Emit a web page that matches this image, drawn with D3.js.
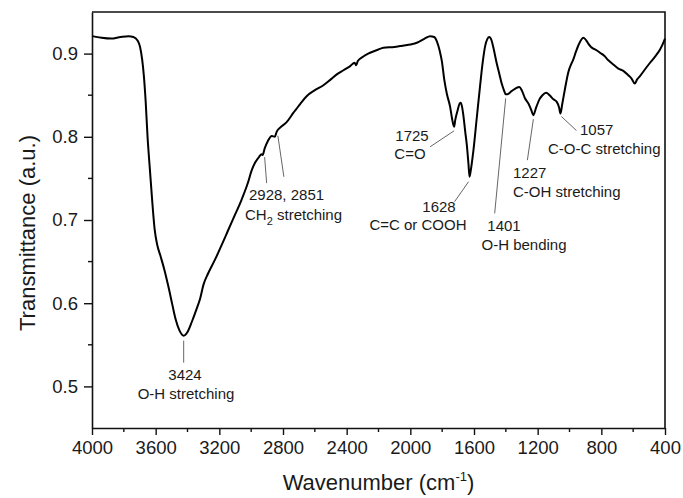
<!DOCTYPE html>
<html>
<head>
<meta charset="utf-8">
<script src="https://cdn.jsdelivr.net/npm/d3@7"></script>
<style>
  html, body { margin: 0; padding: 0; background: #fff; }
  svg { display: block; font-family: "Liberation Sans", Arial, sans-serif; }
</style>
</head>
<body>
<svg id="chart" width="683" height="498"></svg>
<script>
// FTIR spectrum: wavenumber (cm^-1) and transmittance (a.u.)
const wavenumber = [
  4000, 3940, 3880, 3820, 3770, 3740, 3715, 3698, 3685, 3675, 3663, 3651, 3636, 3621, 3606,
  3590, 3570, 3545, 3520, 3495, 3475, 3450, 3424, 3398, 3372, 3345, 3320, 3300, 3270, 3228,
  3185, 3144, 3100, 3061, 3020, 2998, 2975, 2950, 2935, 2928, 2915, 2895, 2870, 2851, 2840,
  2818, 2780, 2734, 2690, 2650, 2600, 2546, 2500, 2462, 2420, 2378, 2350, 2340, 2330, 2300,
  2253, 2200, 2169, 2100, 2064, 2000, 1959, 1910, 1876, 1850, 1834, 1815, 1802, 1787, 1771,
  1750, 1738, 1725, 1718, 1704, 1690, 1683, 1675, 1667, 1655, 1645, 1635, 1628, 1620, 1604,
  1583, 1562, 1545, 1530, 1515, 1504, 1490, 1478, 1457, 1440, 1426, 1410, 1401, 1390, 1375,
  1363, 1340, 1315, 1300, 1279, 1258, 1240, 1227, 1210, 1189, 1170, 1147, 1125, 1101, 1080,
  1065, 1057, 1045, 1028, 1007, 990, 976, 960, 944, 913, 895, 882, 865, 850, 830,
  808, 780, 756, 725, 693, 660, 631, 610, 590, 575, 557, 530, 494, 460, 431,
  415, 400
];
const transmittance = [
  0.921, 0.919, 0.918, 0.920, 0.921, 0.920, 0.916, 0.908, 0.893, 0.875, 0.843, 0.800, 0.760, 0.721, 0.688,
  0.670, 0.657, 0.640, 0.620, 0.598, 0.581, 0.567, 0.561, 0.566, 0.578, 0.592, 0.606, 0.622, 0.636, 0.652,
  0.670, 0.688, 0.707, 0.724, 0.745, 0.759, 0.769, 0.776, 0.779, 0.778, 0.786, 0.795, 0.801, 0.800, 0.806,
  0.811, 0.817, 0.829, 0.840, 0.849, 0.856, 0.862, 0.869, 0.875, 0.880, 0.885, 0.889, 0.886, 0.891, 0.896,
  0.901, 0.905, 0.907, 0.908, 0.909, 0.911, 0.913, 0.918, 0.921, 0.920, 0.915, 0.903, 0.891, 0.869, 0.852,
  0.836, 0.822, 0.812, 0.820, 0.831, 0.840, 0.841, 0.836, 0.826, 0.806, 0.790, 0.768, 0.752, 0.760, 0.783,
  0.822, 0.861, 0.890, 0.909, 0.918, 0.920, 0.916, 0.907, 0.888, 0.875, 0.864, 0.855, 0.851, 0.851, 0.853,
  0.855, 0.858, 0.860, 0.856, 0.846, 0.840, 0.832, 0.826, 0.835, 0.845, 0.850, 0.853, 0.850, 0.845, 0.842,
  0.835, 0.828, 0.840, 0.858, 0.878, 0.887, 0.893, 0.902, 0.910, 0.919, 0.916, 0.912, 0.908, 0.906, 0.904,
  0.901, 0.897, 0.892, 0.887, 0.882, 0.879, 0.874, 0.870, 0.864, 0.869, 0.873, 0.880, 0.889, 0.897, 0.905,
  0.911, 0.918
];

// Axis ticks
const xTicks = [4000, 3600, 3200, 2800, 2400, 2000, 1600, 1200, 800, 400];
const xMinorTicks = [3800, 3400, 3000, 2600, 2200, 1800, 1400, 1000, 600];
const yTicks = [0.5, 0.6, 0.7, 0.8, 0.9];
const yMinorTicks = [0.55, 0.65, 0.75, 0.85];

// Band assignments: peak position and label lines
const bandPeaks = [3424, 2928, 2851, 1725, 1628, 1401, 1227, 1057];
const bandValues = [0.561, 0.778, 0.800, 0.812, 0.752, 0.851, 0.826, 0.828];
const bandLabels = [
  ["3424", "O-H stretching"],
  ["2928, 2851", "CH\u2082 stretching"],
  ["1725", "C=O"],
  ["1628", "C=C or COOH"],
  ["1401", "O-H bending"],
  ["1227", "C-OH stretching"],
  ["1057", "C-O-C stretching"]
];

const svg = d3.select("#chart");
const margin = { left: 92, right: 18, top: 12, bottom: 70 };
const W = 683, H = 498;
const innerW = W - margin.left - margin.right;
const innerH = H - margin.top - margin.bottom;

const x = d3.scaleLinear().domain([4000, 400]).range([margin.left, margin.left + innerW]);
const y = d3.scaleLinear().domain([0.45, 0.95]).range([margin.top + innerH, margin.top]);

const ink = "#111";
const textInk = "#1a1a1a";

// Axes
const gx = svg.append("g").attr("transform", `translate(0,${margin.top + innerH})`)
  .call(d3.axisBottom(x).tickValues(xTicks).tickFormat(d3.format("d")).tickSizeInner(7).tickSizeOuter(0).tickPadding(6));
gx.append("g").selectAll("line").data(xMinorTicks).join("line")
  .attr("x1", d => x(d)).attr("x2", d => x(d)).attr("y1", 0).attr("y2", 4);

const gy = svg.append("g").attr("transform", `translate(${margin.left},0)`)
  .call(d3.axisLeft(y).tickValues(yTicks).tickFormat(d3.format(".1f")).tickSizeInner(8).tickSizeOuter(0).tickPadding(6));
gy.append("g").selectAll("line").data(yMinorTicks).join("line")
  .attr("x1", 0).attr("x2", -4).attr("y1", d => y(d)).attr("y2", d => y(d));

[gx, gy].forEach(g => {
  g.selectAll("path.domain").attr("stroke", ink).attr("stroke-width", 1.6);
  g.selectAll("line").attr("stroke", ink).attr("stroke-width", 1.4);
  g.selectAll("text").attr("fill", textInk).attr("font-size", 18.5)
    .attr("font-family", "'Liberation Sans', Arial, sans-serif");
});

// Frame: top and right edges
svg.append("path")
  .attr("d", `M${margin.left},${margin.top}H${margin.left + innerW}V${margin.top + innerH}`)
  .attr("fill", "none").attr("stroke", ink).attr("stroke-width", 1.6);

// Axis titles
const xt = svg.append("text")
  .attr("x", margin.left + innerW / 2).attr("y", 490)
  .attr("text-anchor", "middle").attr("font-size", 22).attr("fill", textInk);
xt.append("tspan").text("Wavenumber (cm");
xt.append("tspan").attr("font-size", 13).attr("dy", -9).text("-1");
xt.append("tspan").attr("dy", 9).text(")");

svg.append("text")
  .attr("transform", "translate(35,233) rotate(-90)")
  .attr("text-anchor", "middle").attr("font-size", 22).attr("fill", textInk)
  .text("Transmittance (a.u.)");

// Spectrum
const pts = wavenumber.map((w, i) => [w, transmittance[i]]);
svg.append("path")
  .datum(pts)
  .attr("fill", "none").attr("stroke", "#000").attr("stroke-width", 2)
  .attr("stroke-linejoin", "round")
  .attr("d", d3.line().x(d => x(d[0])).y(d => y(d[1])).curve(d3.curveMonotoneX));

// Band callouts: leader lines from peaks to labels
const peakPt = i => [x(bandPeaks[i]), y(bandValues[i])];
const leaders = [
  { i: 0, from: [0, 5], to: [0, 27] },
  { i: 1, from: [2, 2], to: [4, 28] },
  { i: 2, from: [3, -1], to: [9, 40] },
  { i: 3, from: [0, 4], to: [-24, 20] },
  { i: 4, from: [-1, 5], to: [-15, 25] },
  { i: 5, from: [0, 4], to: [-11, 119] },
  { i: 6, from: [0, 4], to: [-6, 45] },
  { i: 7, from: [1, 3], to: [16, 17] }
];
svg.append("g").selectAll("line").data(leaders).join("line")
  .attr("x1", d => peakPt(d.i)[0] + d.from[0]).attr("y1", d => peakPt(d.i)[1] + d.from[1])
  .attr("x2", d => peakPt(d.i)[0] + d.to[0]).attr("y2", d => peakPt(d.i)[1] + d.to[1])
  .attr("stroke", "#555").attr("stroke-width", 0.9);

// Label placement: anchor, first-line position, second-line position
const labelPos = [
  { anchor: "middle", a: [185, 380], b: [186, 399] },
  { anchor: "start", a: [249, 200], b: [245, 220] },
  { anchor: "middle", a: [412, 141], b: [410, 159] },
  { anchor: "middle", a: [439, 212], b: [418, 230] },
  { anchor: "middle", a: [504, 231], b: [524, 250] },
  { anchor: "start", a: [513, 178], b: [513, 197] },
  { anchor: "start", a: [580, 135], b: [548, 154] }
];
const lab = svg.append("g").attr("font-size", 15).attr("fill", textInk);
bandLabels.forEach((lines, k) => {
  const p = labelPos[k];
  lab.append("text").attr("x", p.a[0]).attr("y", p.a[1]).attr("text-anchor", p.anchor).text(lines[0]);
  const t2 = lab.append("text").attr("x", p.b[0]).attr("y", p.b[1]).attr("text-anchor", p.anchor);
  if (lines[1].includes("\u2082")) {
    t2.append("tspan").text("CH");
    t2.append("tspan").attr("font-size", 11).attr("dy", 5).text("2");
    t2.append("tspan").attr("dy", -5).text(" stretching");
  } else {
    t2.text(lines[1]);
  }
});
</script>
</body>
</html>
